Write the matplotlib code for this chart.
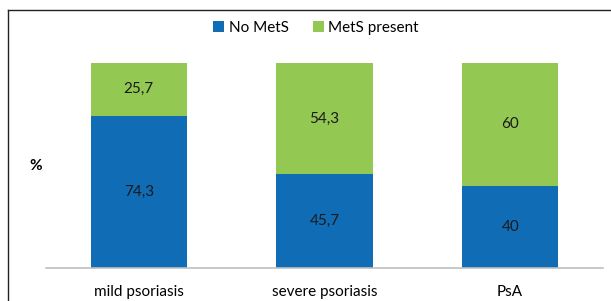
import matplotlib
matplotlib.use("Agg")
import matplotlib.pyplot as plt
from matplotlib.lines import Line2D
import numpy as np

plt.rcParams['font.family'] = ['Lato', 'DejaVu Sans']

# data
groups = ['mild psoriasis', 'severe psoriasis', 'PsA']
no_mets = [74.3, 45.7, 40]
mets_present = [25.7, 54.3, 60]
no_mets_lbl = ['74,3', '45,7', '40']
mets_lbl = ['25,7', '54,3', '60']

blue = '#106cb5'
green = '#93c853'

fig = plt.figure(figsize=(6.11, 3.01), dpi=100)
ax = fig.add_axes([46/611, 33/301, 557/611, 205/301])

x = np.arange(len(groups))
b1 = ax.bar(x, no_mets, width=0.52, color=blue, label='No MetS')
b2 = ax.bar(x, mets_present, width=0.52, bottom=no_mets, color=green, label='MetS present')

for i in range(len(groups)):
    ax.text(x[i], no_mets[i]/2, no_mets_lbl[i], ha='center', va='center', fontsize=11, color='#1a1a1a')
    ax.text(x[i], no_mets[i] + mets_present[i]/2, mets_lbl[i], ha='center', va='center', fontsize=11, color='#1a1a1a')

ax.set_xlim(-0.5, 2.5)
ax.set_ylim(0, 100)
ax.set_xticks(x)
ax.set_xticklabels(groups, fontsize=11)
ax.tick_params(axis='x', length=0, pad=12)
ax.set_yticks([])
for s in ['top', 'right', 'left']:
    ax.spines[s].set_visible(False)
ax.spines['bottom'].set_color('#bfbfbf')
ax.spines['bottom'].set_linewidth(1.2)

ax.set_ylabel('%', rotation=0, fontsize=11, fontweight='bold', labelpad=0, va='center', ha='center')
ax.yaxis.set_label_coords(-0.019, 0.5)

fig.legend(handles=[b1, b2], loc='center', bbox_to_anchor=(316/611, 1 - 28/301),
           ncol=2, frameon=False, fontsize=11, handlelength=0.7, handleheight=0.7,
           handletextpad=0.3, columnspacing=1.6)

# outer frame (left and top edges visible)
fig.add_artist(Line2D([8/611, 8/611], [0, 1 - 10/301], transform=fig.transFigure, color='#222222', lw=1))
fig.add_artist(Line2D([8/611, 1], [1 - 10/301, 1 - 10/301], transform=fig.transFigure, color='#222222', lw=1))

fig.savefig('out.png', dpi=100)
